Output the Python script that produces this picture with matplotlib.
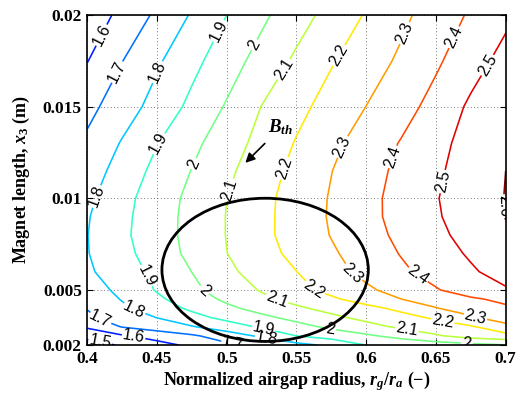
import numpy as np
import matplotlib
matplotlib.use("Agg")
import matplotlib.pyplot as plt
from matplotlib.patches import Ellipse
from matplotlib.colors import Normalize

plt.rcParams['font.family'] = ['Liberation Serif', 'DejaVu Serif']
plt.rcParams['mathtext.fontset'] = 'custom'
plt.rcParams['mathtext.rm'] = 'Liberation Serif:bold'
plt.rcParams['mathtext.it'] = 'Liberation Serif:italic:bold'
plt.rcParams['mathtext.bf'] = 'Liberation Serif:bold'

# ---- data ----
x_ratio = [0.400, 0.425, 0.450, 0.475, 0.500, 0.525, 0.550, 0.575, 0.600, 0.625, 0.650, 0.675, 0.700]
y_length = [0.002, 0.0025, 0.003, 0.0035, 0.004, 0.0045, 0.005, 0.006, 0.007, 0.008,
            0.009, 0.010, 0.0115, 0.013, 0.015, 0.0175, 0.020]

B_y00200 = [1.457, 1.511, 1.565, 1.621, 1.682, 1.729, 1.769, 1.821, 1.902, 1.926, 1.949, 1.973, 1.997]
B_y00250 = [1.530, 1.589, 1.640, 1.686, 1.747, 1.818, 1.901, 1.943, 1.984, 2.034, 2.089, 2.140, 2.170]
B_y00300 = [1.615, 1.706, 1.750, 1.794, 1.854, 1.914, 1.968, 2.021, 2.070, 2.116, 2.156, 2.190, 2.265]
B_y00350 = [1.685, 1.743, 1.802, 1.869, 1.927, 1.978, 2.029, 2.080, 2.125, 2.167, 2.215, 2.286, 2.356]
B_y00400 = [1.703, 1.782, 1.852, 1.917, 1.979, 2.034, 2.084, 2.129, 2.171, 2.223, 2.295, 2.347, 2.385]
B_y00450 = [1.730, 1.806, 1.882, 1.953, 2.018, 2.077, 2.131, 2.184, 2.241, 2.299, 2.343, 2.387, 2.420]
B_y00500 = [1.747, 1.828, 1.907, 1.978, 2.044, 2.108, 2.170, 2.228, 2.283, 2.338, 2.393, 2.445, 2.490]
B_y00600 = [1.785, 1.854, 1.925, 2.001, 2.079, 2.142, 2.199, 2.266, 2.327, 2.383, 2.436, 2.488, 2.538]
B_y00700 = [1.796, 1.871, 1.948, 2.025, 2.099, 2.164, 2.227, 2.287, 2.346, 2.405, 2.459, 2.512, 2.560]
B_y00800 = [1.798, 1.881, 1.957, 2.030, 2.103, 2.175, 2.241, 2.304, 2.364, 2.421, 2.477, 2.534, 2.590]
B_y00900 = [1.793, 1.877, 1.955, 2.030, 2.103, 2.174, 2.243, 2.310, 2.372, 2.432, 2.490, 2.547, 2.602]
B_y01000 = [1.779, 1.869, 1.950, 2.025, 2.100, 2.172, 2.241, 2.308, 2.371, 2.434, 2.495, 2.550, 2.603]
B_y01150 = [1.749, 1.841, 1.927, 2.003, 2.080, 2.155, 2.228, 2.298, 2.361, 2.423, 2.485, 2.543, 2.600]
B_y01300 = [1.718, 1.808, 1.897, 1.976, 2.054, 2.131, 2.207, 2.277, 2.343, 2.406, 2.470, 2.537, 2.590]
B_y01500 = [1.672, 1.752, 1.836, 1.924, 2.009, 2.102, 2.172, 2.238, 2.301, 2.363, 2.433, 2.517, 2.585]
B_y01750 = [1.597, 1.698, 1.786, 1.872, 1.955, 2.037, 2.117, 2.192, 2.254, 2.316, 2.385, 2.459, 2.533]
B_y02000 = [1.536, 1.627, 1.718, 1.809, 1.900, 1.980, 2.059, 2.134, 2.208, 2.278, 2.346, 2.412, 2.478]

contour_levels = [1.5, 1.6, 1.7, 1.8, 1.9, 2.0, 2.1, 2.2, 2.3, 2.4, 2.5, 2.6]
x_ticks = [0.4, 0.45, 0.5, 0.55, 0.6, 0.65, 0.7]
x_ticklabels = ['0.4', '0.45', '0.5', '0.55', '0.6', '0.65', '0.7']
y_ticks = [0.002, 0.005, 0.01, 0.015, 0.02]
y_ticklabels = ['0.002', '0.005', '0.01', '0.015', '0.02']

# contour label anchor points (layout)
label_pts = [
    (0.409, 0.00211),
    (0.4103, 0.0189), (0.433, 0.00238),
    (0.4211, 0.0169), (0.409, 0.00338), (0.5047, 0.00219),
    (0.4498, 0.0169), (0.4067, 0.0101), (0.433, 0.00383), (0.5287, 0.00243),
    (0.4952, 0.0191), (0.4509, 0.0130), (0.439, 0.00565), (0.5263, 0.00283),
    (0.5191, 0.0184), (0.476, 0.0119), (0.4832, 0.00492), (0.5741, 0.00283), (0.6722, 0.00219),
    (0.5418, 0.0170), (0.5017, 0.01046), (0.5359, 0.00447), (0.6291, 0.00283),
    (0.5801, 0.0178), (0.5404, 0.01166), (0.5621, 0.0050), (0.6542, 0.00301),
    (0.6279, 0.0190), (0.5825, 0.01282), (0.5885, 0.00574), (0.6781, 0.00347),
    (0.6626, 0.0188), (0.6184, 0.01228), (0.6363, 0.00574),
    (0.6865, 0.01728), (0.6542, 0.01092),
    (0.6985, 0.00957),
]

X, Y = np.meshgrid(x_ratio, y_length)
Z = np.array([B_y00200, B_y00250, B_y00300, B_y00350, B_y00400, B_y00450, B_y00500,
              B_y00600, B_y00700, B_y00800, B_y00900, B_y01000, B_y01150, B_y01300,
              B_y01500, B_y01750, B_y02000])

fig = plt.figure(figsize=(5.17, 3.99), dpi=100)
ax = fig.add_axes([0.1689, 0.1353, 0.9781 - 0.1689, 0.9624 - 0.1353])

cs = ax.contour(X, Y, Z, levels=contour_levels, cmap='jet',
                norm=Normalize(1.42, 2.60), linewidths=1.15)
ax.set_xlim(0.4, 0.7)
ax.set_ylim(0.002, 0.02)
ax.clabel(cs, manual=label_pts, inline=True, inline_spacing=2,
          fontsize=11.5, colors='k', fmt='%g')
for t in cs.labelTexts:
    t.set_family('Liberation Sans')

ax.add_patch(Ellipse((0.5275, 0.0061), 0.148, 0.00781, fill=False,
                     edgecolor='k', lw=2.0, zorder=5))
ax.annotate('', xy=(0.5119, 0.01183), xytext=(0.5287, 0.0131),
            arrowprops=dict(arrowstyle='-|>', color='k', lw=1.2, mutation_scale=14))
ax.text(0.5384, 0.0139, r'$B_{th}$', fontsize=13.5, ha='center', va='center')

ax.set_xticks(x_ticks)
ax.set_xticklabels(x_ticklabels, fontsize=12.5, fontweight='bold')
ax.set_yticks(y_ticks)
ax.set_yticklabels(y_ticklabels, fontsize=12.5, fontweight='bold')
ax.tick_params(direction='in', top=True, right=True, length=4, width=0.8, pad=4)
ax.grid(True, linestyle=(0, (1, 3)), color='0.3', linewidth=0.6)
for s in ax.spines.values():
    s.set_linewidth(1.2)

ax.set_xlabel(r'Normalized airgap radius, $r_g$/$r_a$ (−)', fontsize=13,
              fontweight='bold', labelpad=2)
ax.set_ylabel(r'Magnet length, $x_3$ (m)', fontsize=13, fontweight='bold', labelpad=8)

fig.savefig('out.png', dpi=100)
